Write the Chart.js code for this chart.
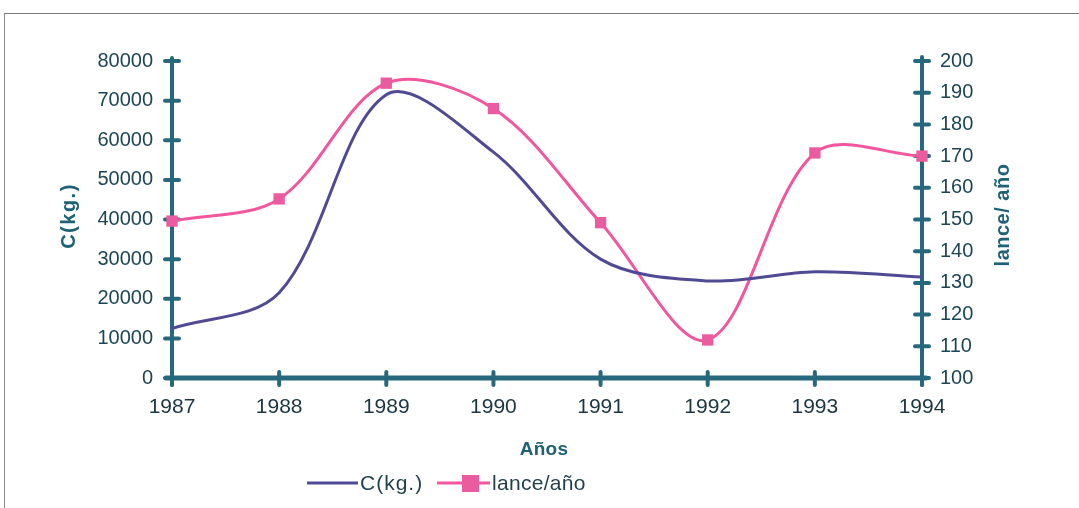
<!DOCTYPE html>
<html>
<head>
<meta charset="utf-8">
<script src="https://cdn.jsdelivr.net/npm/chart.js@4/dist/chart.umd.min.js"></script>
<style>
  html, body { margin: 0; padding: 0; background: #fff; }
  #wrap { position: relative; width: 1079px; height: 508px; }
  #frame { position: absolute; left: 4px; top: 13px; right: 0; bottom: 0;
           border-top: 1px solid #7a7a7a; border-left: 1px solid #8a8a8a; pointer-events: none; }
  canvas { position: absolute; left: 0; top: 0; }
</style>
</head>
<body>
<div id="wrap">
  <canvas id="chart" width="1079" height="508"></canvas>
  <div id="frame"></div>
</div>
<script>
// Years on the horizontal axis
const years = ['1987', '1988', '1989', '1990', '1991', '1992', '1993', '1994'];
// Catch in kg (left axis)
const catchKg = [12500, 21500, 71500, 57000, 30000, 24500, 26800, 25500];
// Hauls per year (right axis)
const lancePerYear = [149.5, 156.5, 193, 185, 149, 112, 171, 170];

const catchLabel = 'C(kg.)';
const lanceLabel = 'lance/año';
const xTitle = 'Años';
const yTitle = 'C(kg.)';
const y1Title = 'lance/ año';

const AXIS = '#27697c';
const TITLE = '#1f6275';
const TICKTXT = '#1d4654';
const XTICKTXT = '#1c3641';
const LEGTXT = '#1e3f4b';
const PURPLE = '#4f4a93';
const PINK = '#f2569c';
const FONT = '"Liberation Sans", Arial, sans-serif';

function drawText(ctx, text, x, y, font, color, spacing, rot) {
  ctx.save();
  ctx.font = font;
  ctx.fillStyle = color;
  ctx.letterSpacing = spacing + 'px';
  ctx.textBaseline = 'middle';
  ctx.textAlign = 'left';
  const w = ctx.measureText(text).width;
  ctx.translate(x, y);
  if (rot) ctx.rotate(rot);
  ctx.fillText(text, -w / 2, 0);
  ctx.restore();
}

// Thick axis lines with ticks crossing them, plus rotated titles and legend
const decorations = {
  id: 'decorations',
  beforeDatasetsDraw(chart) {
    const ctx = chart.ctx;
    const a = chart.chartArea;
    const x = chart.scales.x, y = chart.scales.y, y1 = chart.scales.y1;
    ctx.save();
    ctx.strokeStyle = AXIS;
    ctx.lineCap = 'round';
    ctx.lineWidth = 4;
    ctx.beginPath(); ctx.moveTo(a.left, a.top - 3); ctx.lineTo(a.left, a.bottom + 7); ctx.stroke();
    ctx.beginPath(); ctx.moveTo(a.right, a.top - 4); ctx.lineTo(a.right, a.bottom + 7); ctx.stroke();
    y.ticks.forEach((t, i) => {
      const py = y.getPixelForTick(i);
      ctx.beginPath(); ctx.moveTo(a.left - 7, py); ctx.lineTo(a.left + 7, py); ctx.stroke();
    });
    y1.ticks.forEach((t, i) => {
      const py = y1.getPixelForTick(i);
      ctx.beginPath(); ctx.moveTo(a.right - 7, py); ctx.lineTo(a.right + 7, py); ctx.stroke();
    });
    ctx.lineWidth = 5;
    ctx.beginPath(); ctx.moveTo(a.left - 6, a.bottom); ctx.lineTo(a.right + 4, a.bottom); ctx.stroke();
    ctx.lineWidth = 4;
    x.ticks.forEach((t, i) => {
      const px = x.getPixelForTick(i);
      ctx.beginPath(); ctx.moveTo(px, a.bottom - 6); ctx.lineTo(px, a.bottom + 7); ctx.stroke();
    });
    ctx.restore();
  },
  afterDraw(chart) {
    const ctx = chart.ctx;
    const ds = chart.data.datasets;
    drawText(ctx, yTitle, 69, 216, 'bold 20px ' + FONT, TITLE, 1.5, -Math.PI / 2);
    drawText(ctx, y1Title, 1003, 215, 'bold 20px ' + FONT, TITLE, 0.5, -Math.PI / 2);
    drawText(ctx, xTitle, 544, 450, 'bold 19px ' + FONT, TITLE, 0.3, 0);

    // legend
    const ly = 483;
    ctx.save();
    ctx.lineCap = 'butt';
    ctx.strokeStyle = ds[0].borderColor; ctx.lineWidth = 3;
    ctx.beginPath(); ctx.moveTo(307, ly); ctx.lineTo(358, ly); ctx.stroke();
    ctx.strokeStyle = ds[1].borderColor; ctx.lineWidth = 3;
    ctx.beginPath(); ctx.moveTo(437, ly); ctx.lineTo(490, ly); ctx.stroke();
    ctx.fillStyle = ds[1].pointBackgroundColor;
    ctx.fillRect(462, ly - 8, 17, 17);
    ctx.restore();
    ctx.save();
    ctx.font = '21px ' + FONT;
    ctx.letterSpacing = '1px';
    ctx.fillStyle = LEGTXT;
    ctx.textBaseline = 'middle';
    ctx.fillText(ds[0].label, 360, ly + 1);
    ctx.letterSpacing = '0.3px';
    ctx.fillText(ds[1].label, 492, ly + 1);
    ctx.restore();
  }
};

new Chart(document.getElementById('chart'), {
  type: 'line',
  data: {
    labels: years,
    datasets: [
      {
        label: catchLabel,
        data: catchKg,
        yAxisID: 'y',
        borderColor: PURPLE,
        borderWidth: 3,
        pointRadius: 0,
        tension: 0.33,
        fill: false,
        clip: false
      },
      {
        label: lanceLabel,
        data: lancePerYear,
        yAxisID: 'y1',
        borderColor: PINK,
        borderWidth: 3,
        pointStyle: 'rect',
        pointRadius: 8,
        pointBackgroundColor: '#ea5b9f',
        pointBorderColor: '#ea5b9f',
        pointBorderWidth: 0,
        tension: 0.33,
        fill: false,
        clip: false
      }
    ]
  },
  options: {
    responsive: false,
    animation: false,
    layout: { padding: { left: 0, right: 0, top: 61, bottom: 0 } },
    plugins: { legend: { display: false }, tooltip: { enabled: false }, title: { display: false } },
    scales: {
      x: {
        offset: false,
        grid: { display: false, drawTicks: false },
        border: { display: false },
        ticks: { color: XTICKTXT, font: { family: FONT, size: 21 }, padding: 17, maxRotation: 0, autoSkip: false },
        afterFit(s) { s.height = 130; }
      },
      y: {
        position: 'left',
        min: 0, max: 80000,
        grid: { display: false, drawTicks: false },
        border: { display: false },
        ticks: { stepSize: 10000, color: TICKTXT, font: { family: FONT, size: 20 }, padding: 19,
                 callback: v => String(v) },
        afterFit(s) { s.width = 172; }
      },
      y1: {
        position: 'right',
        min: 100, max: 200,
        grid: { display: false, drawTicks: false },
        border: { display: false },
        ticks: { stepSize: 10, color: TICKTXT, font: { family: FONT, size: 20 }, padding: 18,
                 callback: v => String(v) },
        afterFit(s) { s.width = 157; }
      }
    }
  },
  plugins: [decorations]
});
</script>
</body>
</html>
